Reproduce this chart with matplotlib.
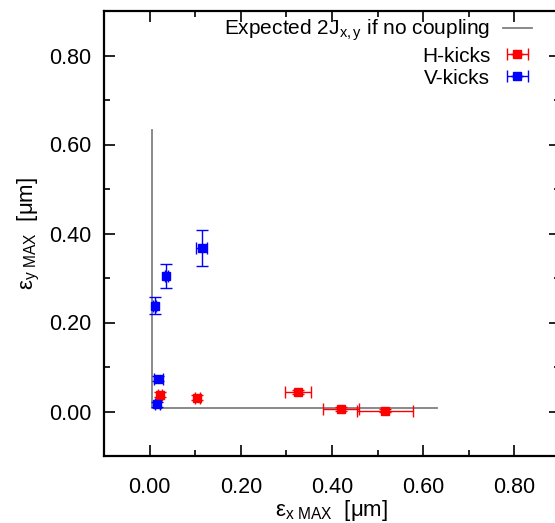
import numpy as np
import matplotlib
matplotlib.use("Agg")
import matplotlib.pyplot as plt
from matplotlib.container import ErrorbarContainer
from matplotlib.legend_handler import HandlerErrorbar
from matplotlib.ticker import MultipleLocator

plt.rcParams['font.family'] = ['Liberation Sans', 'DejaVu Sans']
plt.rcParams['mathtext.fontset'] = 'custom'
plt.rcParams['mathtext.rm'] = 'Liberation Sans'
plt.rcParams['mathtext.it'] = 'Liberation Sans:italic'

# V-kicks (blue)
vx = [0.114, 0.037, 0.011, 0.019, 0.017]
vy = [0.367, 0.304, 0.238, 0.074, 0.016]
vxerr = [0.012, 0.004, 0.004, 0.010, 0.006]
vyerr = [0.040, 0.027, 0.020, 0.006, 0.006]

# H-kicks (red)
hx = [0.023, 0.105, 0.325, 0.420, 0.516]
hy = [0.038, 0.031, 0.044, 0.006, 0.002]
hxerr = [0.004, 0.006, 0.028, 0.039, 0.062]
hyerr = [0.006, 0.005, 0.005, 0.004, 0.004]

# expected line if no coupling
ex = [0.63, 0.005, 0.005]
ey = [0.008, 0.008, 0.633]

fig = plt.figure(figsize=(5.55, 5.23), dpi=100)
ax = fig.add_axes([104/555, 67/523, 456/555, 445/523])

ax.plot(ex, ey, color='#808080', lw=1.3, label=r'Expected 2$\mathregular{J_{x,y}}$ if no coupling')
ax.errorbar(hx, hy, xerr=hxerr, yerr=hyerr, fmt='s', color='#ff0000', ms=5.5,
            elinewidth=1, capsize=4, capthick=1, label='H-kicks')
ax.errorbar(vx, vy, xerr=vxerr, yerr=vyerr, fmt='s', color='#0000ff', ms=5.5,
            elinewidth=1, capsize=4, capthick=1, label='V-kicks')

ax.set_xlim(-0.1, 0.9)
ax.set_ylim(-0.1, 0.9)
ax.set_xticks([0.0, 0.2, 0.4, 0.6, 0.8])
ax.set_yticks([0.0, 0.2, 0.4, 0.6, 0.8])
ax.xaxis.set_minor_locator(MultipleLocator(0.1))
ax.yaxis.set_minor_locator(MultipleLocator(0.1))
ax.xaxis.set_major_formatter(matplotlib.ticker.FormatStrFormatter('%.2f'))
ax.yaxis.set_major_formatter(matplotlib.ticker.FormatStrFormatter('%.2f'))
ax.tick_params(which='both', direction='in', top=True, right=True, width=1.2)
ax.tick_params(which='major', length=8)
ax.tick_params(which='minor', length=4)
ax.tick_params(axis='x', which='major', pad=15, labelsize=15.5)
ax.tick_params(axis='y', which='major', pad=9, labelsize=15.5)
for s in ax.spines.values():
    s.set_linewidth(1.6)

ax.set_xlabel(r'$\mathregular{ε_{x\ MAX}}$  [μm]', fontsize=16)
ax.set_ylabel(r'$\mathregular{ε_{y\ MAX}}$  [μm]', fontsize=16)
ax.xaxis.set_label_coords(0.5, -0.095)
ax.yaxis.set_label_coords(-0.137, 0.5)

ax.legend(loc='upper right', bbox_to_anchor=(532/555, 1 - 18/523), bbox_transform=fig.transFigure,
          frameon=False, markerfirst=False, fontsize=15, borderpad=0, borderaxespad=0,
          handlelength=1.4, handletextpad=0.6, labelspacing=0.15,
          handler_map={ErrorbarContainer: HandlerErrorbar(yerr_size=0)})

fig.savefig("out.png", dpi=100)
